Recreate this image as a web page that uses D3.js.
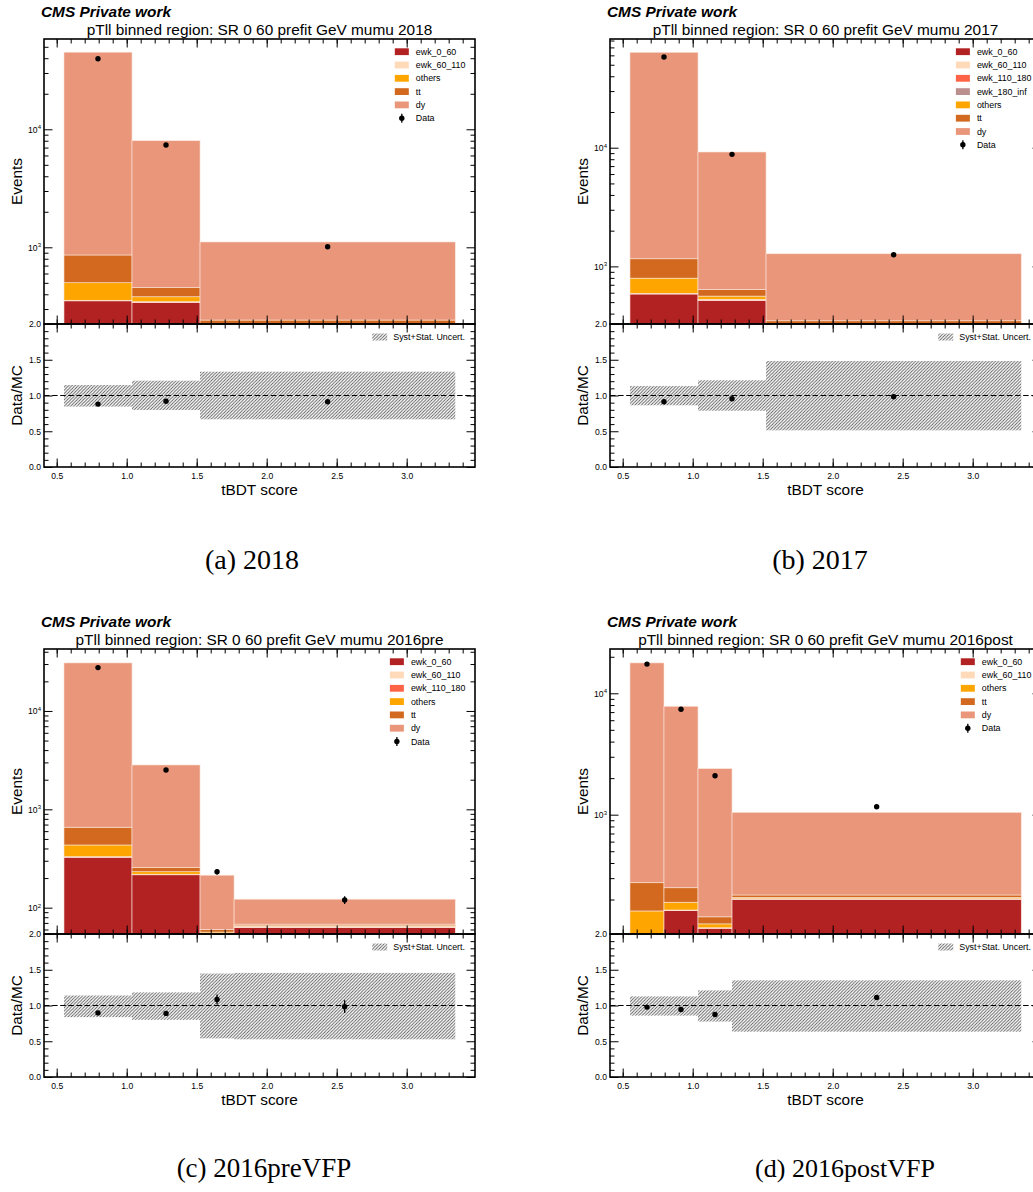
<!DOCTYPE html>
<html>
<head>
<meta charset="utf-8">
<script src="https://cdn.jsdelivr.net/npm/d3@7"></script>
<style>
  body { margin: 0; background: #fff; }
  svg text { font-family: "Liberation Sans", Arial, Helvetica, sans-serif; }
</style>
</head>
<body>
<script>
// ---------------- data ----------------
// 2018
const bins2018    = [0.552, 1.038, 1.524, 3.347];
const procs2018   = ["ewk_0_60", "ewk_60_110", "others", "tt", "dy"];
const yields2018  = [
  [352, 342, 150],      // ewk_0_60
  [4, 4, 3],            // ewk_60_110
  [145, 35, 60],        // others
  [360, 74, 29],        // tt
  [44140, 7545, 868]    // dy
];
const data2018    = [39600, 7360, 1012];
const dataErr2018 = [199, 86, 32];
const uncLo2018   = [0.845, 0.797, 0.667];
const uncHi2018   = [1.147, 1.207, 1.333];
const yRange2018  = [224, 58200];

// 2017
const bins2017    = [0.552, 1.038, 1.524, 3.347];
const procs2017   = ["ewk_0_60", "ewk_60_110", "ewk_110_180", "ewk_180_inf", "others", "tt", "dy"];
const yields2017  = [
  [585, 518, 250],      // ewk_0_60
  [5, 6, 4],            // ewk_60_110
  [2, 2, 2],            // ewk_110_180
  [1, 1, 1],            // ewk_180_inf
  [203, 35, 60],        // others
  [363, 78, 31],        // tt
  [62540, 8560, 929]    // dy
];
const data2017    = [58100, 8790, 1254];
const dataErr2017 = [241, 94, 35];
const uncLo2017   = [0.863, 0.787, 0.513];
const uncHi2017   = [1.133, 1.213, 1.483];
const yRange2017  = [327, 82400];

// 2016 preVFP
const bins2016pre    = [0.552, 1.038, 1.524, 1.767, 3.347];
const procs2016pre   = ["ewk_0_60", "ewk_60_110", "ewk_110_180", "others", "tt", "dy"];
const yields2016pre  = [
  [326, 216, 40, 63],       // ewk_0_60
  [3, 2, 1, 1],             // ewk_60_110
  [1, 1, 0.5, 0.5],         // ewk_110_180
  [104, 13, 15, 1],         // others
  [224, 23, 3.5, 2.5],      // tt
  [30140, 2570, 154, 54]    // dy
];
const data2016pre    = [27600, 2513, 232, 120];
const dataErr2016pre = [166, 50, 15, 11];
const uncLo2016pre   = [0.837, 0.80, 0.54, 0.527];
const uncHi2016pre   = [1.14, 1.183, 1.447, 1.456];
const yRange2016pre  = [54, 42660];

// 2016 postVFP
const bins2016post    = [0.552, 0.795, 1.038, 1.281, 3.347];
const procs2016post   = ["ewk_0_60", "ewk_60_110", "others", "tt", "dy"];
const yields2016post  = [
  [40, 162, 116, 201],      // ewk_0_60
  [1, 2, 1, 2],             // ewk_60_110
  [120, 26, 9, 5],          // others
  [114, 60, 18, 10],        // tt
  [17525, 7570, 2251, 828]  // dy
];
const data2016post    = [17400, 7380, 2092, 1163];
const dataErr2016post = [132, 86, 46, 34];
const uncLo2016post   = [0.859, 0.859, 0.775, 0.634];
const uncHi2016post   = [1.127, 1.127, 1.211, 1.352];
const yRange2016post  = [104, 23170];

// axis ticks
const xMajorTicks  = [0.5, 1.0, 1.5, 2.0, 2.5, 3.0];
const xMajorLabels = ["0.5", "1.0", "1.5", "2.0", "2.5", "3.0"];
const xMinorTicks  = [0.5,0.6,0.7,0.8,0.9,1.0,1.1,1.2,1.3,1.4,1.5,1.6,1.7,1.8,1.9,2.0,2.1,2.2,2.3,2.4,2.5,2.6,2.7,2.8,2.9,3.0,3.1,3.2,3.3,3.4];
const rMajorTicks  = [0, 0.5, 1.0, 1.5, 2.0];
const rMajorLabels = ["0.0", "0.5", "1.0", "1.5", "2.0"];
const rMinorTicks  = [0.1,0.2,0.3,0.4,0.6,0.7,0.8,0.9,1.1,1.2,1.3,1.4,1.6,1.7,1.8,1.9];

const years    = ["2018", "2017", "2016pre", "2016post"];
const captions = ["(a) 2018", "(b) 2017", "(c) 2016preVFP", "(d) 2016postVFP"];

// ---------------- styling ----------------
const procColor = {
  ewk_0_60: "#b22222", ewk_60_110: "#ffdab9", ewk_110_180: "#ff6347",
  ewk_180_inf: "#bc8f8f", others: "#ffa500", tt: "#d2691e", dy: "#e9967a"
};

const panels = [
  { bins: bins2018, procs: procs2018, yields: yields2018, data: data2018, err: dataErr2018, lo: uncLo2018, hi: uncHi2018, yRange: yRange2018 },
  { bins: bins2017, procs: procs2017, yields: yields2017, data: data2017, err: dataErr2017, lo: uncLo2017, hi: uncHi2017, yRange: yRange2017 },
  { bins: bins2016pre, procs: procs2016pre, yields: yields2016pre, data: data2016pre, err: dataErr2016pre, lo: uncLo2016pre, hi: uncHi2016pre, yRange: yRange2016pre },
  { bins: bins2016post, procs: procs2016post, yields: yields2016post, data: data2016post, err: dataErr2016post, lo: uncLo2016post, hi: uncHi2016post, yRange: yRange2016post }
];

const W = 1033, H = 1192;
const PW = 431, MH = 285, RH = 143;     // frame width, main height, ratio height
const xDomain = [0.4093, 3.488];
const origins = [[44, 39], [610, 39], [44, 649], [610, 649]];
const captionPos = [[252, 569], [820, 569], [264, 1177], [845, 1177]];
const captionSize = [28, 28, 27, 26];
const MAJ = 8.5, MIN = 4.5;
const LEG_FS = 8.9, TICK_FS = 8.6, LAB_FS = 15.4;

const svg = d3.select("body").append("svg")
  .attr("width", W).attr("height", H).attr("viewBox", `0 0 ${W} ${H}`);
const defs = svg.append("defs");

const T = 3.2;
defs.append("pattern").attr("id", "hatch")
  .attr("patternUnits", "userSpaceOnUse").attr("width", T).attr("height", T)
  .append("path")
  .attr("d", `M0,${T} L${T},0 M${-T/4},${T/4} L${T/4},${-T/4} M${T*3/4},${T*5/4} L${T*5/4},${T*3/4}`)
  .attr("stroke", "#555").attr("stroke-width", 0.85);

function styleTicks(g) {
  g.select(".domain").remove();
  g.selectAll(".tick line").attr("stroke", "#000").attr("stroke-width", 1);
  g.attr("font-family", null).attr("font-size", TICK_FS);
  g.selectAll(".tick text").attr("fill", "#000");
}

function axisSet(g, axisFn, scale, majors, minors, transform) {
  const gm = g.append("g").attr("transform", transform)
    .call(axisFn(scale).tickValues(minors).tickSize(-MIN).tickSizeOuter(0).tickFormat(""));
  styleTicks(gm);
  const gM = g.append("g").attr("transform", transform)
    .call(axisFn(scale).tickValues(majors).tickSize(-MAJ).tickSizeOuter(0).tickFormat(""));
  styleTicks(gM);
}

panels.forEach((p, i) => {
  const [ox, oy] = origins[i];
  const g = svg.append("g");

  const x = d3.scaleLinear().domain(xDomain).range([ox, ox + PW]);
  const y = d3.scaleLog().domain(p.yRange).range([oy + MH, oy]);
  const r = d3.scaleLinear().domain([0, 2]).range([oy + MH + RH, oy + MH]);

  const cid = "clipMain" + i;
  defs.append("clipPath").attr("id", cid).append("rect")
    .attr("x", ox).attr("y", oy).attr("width", PW).attr("height", MH);

  const nb = p.bins.length - 1;
  const centers = d3.range(nb).map(b => (p.bins[b] + p.bins[b + 1]) / 2);
  const totals = d3.range(nb).map(b => d3.sum(p.yields, row => row[b]));

  // stacked histogram
  const layers = [];
  for (let b = 0; b < nb; b++) {
    let cum = 0;
    p.procs.forEach((name, k) => {
      const v = p.yields[k][b];
      layers.push({ name, b, lo: cum, hi: cum + v });
      cum += v;
    });
  }
  const yy = v => y(Math.max(v, p.yRange[0] * 0.5));
  const main = g.append("g").attr("clip-path", `url(#${cid})`);
  main.selectAll("rect.stk").data(layers).join("rect").attr("class", "stk")
    .attr("x", d => x(p.bins[d.b]))
    .attr("width", d => x(p.bins[d.b + 1]) - x(p.bins[d.b]))
    .attr("y", d => yy(d.hi))
    .attr("height", d => Math.max(0, yy(d.lo) - yy(d.hi)))
    .attr("fill", d => procColor[d.name])
    .attr("stroke", "#fbe6dc").attr("stroke-width", 0.6);

  // data points
  main.selectAll("line.err").data(d3.range(nb)).join("line")
    .attr("x1", b => x(centers[b])).attr("x2", b => x(centers[b]))
    .attr("y1", b => y(p.data[b] - p.err[b])).attr("y2", b => y(p.data[b] + p.err[b]))
    .attr("stroke", "#000").attr("stroke-width", 1.3);
  main.selectAll("circle.pt").data(d3.range(nb)).join("circle")
    .attr("cx", b => x(centers[b])).attr("cy", b => y(p.data[b]))
    .attr("r", 2.7).attr("fill", "#000");

  // ratio panel
  const rat = g.append("g");
  rat.selectAll("rect.unc").data(d3.range(nb)).join("rect")
    .attr("x", b => x(p.bins[b])).attr("width", b => x(p.bins[b + 1]) - x(p.bins[b]))
    .attr("y", b => r(p.hi[b])).attr("height", b => r(p.lo[b]) - r(p.hi[b]))
    .attr("fill", "url(#hatch)");
  rat.append("line")
    .attr("x1", ox).attr("x2", ox + PW).attr("y1", r(1)).attr("y2", r(1))
    .attr("stroke", "#000").attr("stroke-width", 1.2).attr("stroke-dasharray", "5.5,2.6");
  rat.selectAll("line.rerr").data(d3.range(nb)).join("line")
    .attr("x1", b => x(centers[b])).attr("x2", b => x(centers[b]))
    .attr("y1", b => r((p.data[b] - p.err[b]) / totals[b]))
    .attr("y2", b => r((p.data[b] + p.err[b]) / totals[b]))
    .attr("stroke", "#000").attr("stroke-width", 1.3);
  rat.selectAll("circle.rpt").data(d3.range(nb)).join("circle")
    .attr("cx", b => x(centers[b])).attr("cy", b => r(p.data[b] / totals[b]))
    .attr("r", 2.7).attr("fill", "#000");

  // ticks (inward on every side)
  const lo = Math.floor(Math.log10(p.yRange[0])), hi = Math.ceil(Math.log10(p.yRange[1]));
  const logMaj = [], logMin = [];
  for (let k = lo; k <= hi; k++) {
    const v = Math.pow(10, k);
    if (v >= p.yRange[0] && v <= p.yRange[1]) logMaj.push(v);
    for (let m = 2; m <= 9; m++) {
      const u = m * v;
      if (u >= p.yRange[0] && u <= p.yRange[1]) logMin.push(u);
    }
  }
  axisSet(g, d3.axisBottom, x, xMajorTicks, xMinorTicks, `translate(0,${oy + MH})`);
  axisSet(g, d3.axisTop, x, xMajorTicks, xMinorTicks, `translate(0,${oy})`);
  axisSet(g, d3.axisLeft, y, logMaj, logMin, `translate(${ox},0)`);
  axisSet(g, d3.axisRight, y, logMaj, logMin, `translate(${ox + PW},0)`);
  axisSet(g, d3.axisTop, x, xMajorTicks, xMinorTicks, `translate(0,${oy + MH})`);
  axisSet(g, d3.axisBottom, x, xMajorTicks, xMinorTicks, `translate(0,${oy + MH + RH})`);
  axisSet(g, d3.axisLeft, r, rMajorTicks, rMinorTicks, `translate(${ox},0)`);
  axisSet(g, d3.axisRight, r, rMajorTicks, rMinorTicks, `translate(${ox + PW},0)`);

  // tick labels
  const xl = g.append("g").attr("transform", `translate(0,${oy + MH + RH})`)
    .call(d3.axisBottom(x).tickValues(xMajorTicks).tickSize(0).tickPadding(5.5)
      .tickFormat((d, k) => xMajorLabels[k]));
  styleTicks(xl); xl.selectAll(".tick line").remove();

  const rl = g.append("g").attr("transform", `translate(${ox},0)`)
    .call(d3.axisLeft(r).tickValues(rMajorTicks).tickSize(0).tickPadding(3)
      .tickFormat((d, k) => rMajorLabels[k]));
  styleTicks(rl); rl.selectAll(".tick line").remove();

  const yl = g.append("g").attr("transform", `translate(${ox},0)`)
    .call(d3.axisLeft(y).tickValues(logMaj).tickSize(0).tickPadding(3).tickFormat(""));
  styleTicks(yl); yl.selectAll(".tick line").remove();
  yl.selectAll(".tick text").each(function (d) {
    const t = d3.select(this).attr("dy", "0.32em");
    t.append("tspan").text("10");
    t.append("tspan").attr("font-size", 6).attr("dy", "-0.55em").text(Math.round(Math.log10(d)));
  });

  // frames
  g.append("rect").attr("x", ox).attr("y", oy).attr("width", PW).attr("height", MH)
    .attr("fill", "none").attr("stroke", "#000").attr("stroke-width", 1.6);
  g.append("rect").attr("x", ox).attr("y", oy + MH).attr("width", PW).attr("height", RH)
    .attr("fill", "none").attr("stroke", "#000").attr("stroke-width", 1.6);

  // legend (main panel)
  const names = p.procs.concat(["Data"]);
  const tmp = svg.append("text").attr("font-size", LEG_FS);
  const maxW = d3.max(names, n => { tmp.text(n); return tmp.node().getComputedTextLength(); });
  tmp.remove();
  const textX = ox + PW - 9.5 - maxW;
  const swX = textX - 7 - 14;
  const leg = g.append("g");
  names.forEach((n, k) => {
    const yc = oy + 12.7 + k * 13.3;
    if (n === "Data") {
      leg.append("line").attr("x1", swX + 7).attr("x2", swX + 7)
        .attr("y1", yc - 4.5).attr("y2", yc + 4.5).attr("stroke", "#000").attr("stroke-width", 1.3);
      leg.append("circle").attr("cx", swX + 7).attr("cy", yc).attr("r", 2.7).attr("fill", "#000");
    } else {
      leg.append("rect").attr("x", swX).attr("y", yc - 3.4).attr("width", 14).attr("height", 6.8)
        .attr("fill", procColor[n]);
    }
    leg.append("text").attr("x", textX).attr("y", yc + LEG_FS * 0.35)
      .attr("font-size", LEG_FS).text(n);
  });

  // legend (ratio panel)
  const ry = oy + MH + 13;
  const ut = g.append("text").attr("x", ox + PW - 10).attr("y", ry + LEG_FS * 0.35)
    .attr("text-anchor", "end").attr("font-size", LEG_FS).text("Syst+Stat. Uncert.");
  const uw = ut.node().getComputedTextLength();
  g.append("rect").attr("x", ox + PW - 10 - uw - 6 - 15).attr("y", ry - 3.5)
    .attr("width", 15).attr("height", 7).attr("fill", "url(#hatch)");

  // labels and titles
  g.append("text").attr("x", ox - 3).attr("y", oy - 22.5)
    .attr("font-size", LAB_FS).attr("font-weight", "bold").attr("font-style", "italic")
    .text("CMS Private work");
  g.append("text").attr("x", ox + PW / 2).attr("y", oy - 4.5).attr("text-anchor", "middle")
    .attr("font-size", LAB_FS)
    .text(`pTll binned region: SR 0 60 prefit GeV mumu ${years[i]}`);
  g.append("text").attr("transform", `translate(${ox - 22},${oy + MH / 2}) rotate(-90)`)
    .attr("text-anchor", "middle").attr("font-size", LAB_FS).text("Events");
  g.append("text").attr("transform", `translate(${ox - 22},${oy + MH + RH / 2}) rotate(-90)`)
    .attr("text-anchor", "middle").attr("font-size", LAB_FS).text("Data/MC");
  g.append("text").attr("x", ox + PW / 2).attr("y", oy + MH + RH + 28)
    .attr("text-anchor", "middle").attr("font-size", LAB_FS).text("tBDT score");

  // sub-figure caption
  svg.append("text").attr("x", captionPos[i][0]).attr("y", captionPos[i][1])
    .attr("text-anchor", "middle")
    .style("font-family", '"Liberation Serif", "DejaVu Serif", serif')
    .attr("font-size", captionSize[i]).text(captions[i]);
});
</script>
</body>
</html>
